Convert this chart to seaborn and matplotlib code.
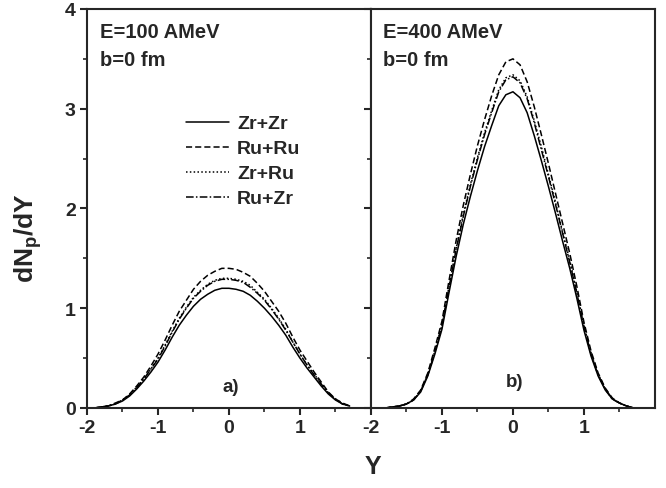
import numpy as np
import pandas as pd
import matplotlib
matplotlib.use('Agg')
import matplotlib.pyplot as plt
import seaborn as sns
from matplotlib import ticker
from matplotlib.lines import Line2D

# ---- data ----
y_100 = [-2.0, -1.9, -1.8, -1.7, -1.6, -1.5, -1.4, -1.3, -1.2, -1.1, -1.0, -0.9, -0.8, -0.7, -0.6,
         -0.5, -0.4, -0.3, -0.2, -0.1, 0.0, 0.1, 0.2, 0.3, 0.4, 0.5, 0.6, 0.7, 0.8, 0.9, 1.0,
         1.1, 1.2, 1.3, 1.4, 1.5, 1.6, 1.7]
zrzr_100 = [0.00, 0.00, 0.01, 0.02, 0.04, 0.07, 0.12, 0.19, 0.27, 0.36, 0.46, 0.58, 0.71, 0.83, 0.93,
            1.02, 1.09, 1.14, 1.18, 1.20, 1.20, 1.19, 1.17, 1.13, 1.07, 1.00, 0.92, 0.83, 0.73, 0.61, 0.50,
            0.40, 0.31, 0.22, 0.14, 0.08, 0.04, 0.02]
ruru_100 = [0.00, 0.00, 0.01, 0.02, 0.05, 0.08, 0.14, 0.22, 0.31, 0.42, 0.54, 0.68, 0.83, 0.97, 1.08,
            1.19, 1.27, 1.33, 1.37, 1.40, 1.40, 1.39, 1.36, 1.32, 1.25, 1.17, 1.07, 0.97, 0.85, 0.71, 0.58,
            0.47, 0.36, 0.26, 0.16, 0.09, 0.05, 0.02]
zrru_100 = [0.00, 0.00, 0.01, 0.02, 0.04, 0.08, 0.13, 0.21, 0.29, 0.39, 0.50, 0.63, 0.77, 0.90, 1.01,
            1.11, 1.18, 1.24, 1.28, 1.30, 1.30, 1.29, 1.27, 1.23, 1.16, 1.09, 1.00, 0.90, 0.79, 0.66, 0.54,
            0.43, 0.34, 0.24, 0.15, 0.09, 0.04, 0.02]
ruzr_100 = [0.00, 0.00, 0.01, 0.02, 0.04, 0.08, 0.13, 0.20, 0.29, 0.39, 0.49, 0.62, 0.76, 0.89, 1.00,
            1.10, 1.17, 1.23, 1.27, 1.29, 1.29, 1.28, 1.26, 1.21, 1.15, 1.08, 0.99, 0.89, 0.78, 0.66, 0.54,
            0.43, 0.33, 0.24, 0.15, 0.09, 0.04, 0.02]

y_400 = [-1.8, -1.7, -1.6, -1.5, -1.4, -1.3, -1.2, -1.1, -1.0, -0.9, -0.8, -0.7, -0.6, -0.5, -0.4,
         -0.3, -0.2, -0.1, 0.0, 0.1, 0.2, 0.3, 0.4, 0.5, 0.6, 0.7, 0.8, 0.9, 1.0, 1.1, 1.2,
         1.3, 1.4, 1.5, 1.6, 1.7]
zrzr_400 = [0.00, 0.01, 0.02, 0.04, 0.08, 0.16, 0.32, 0.54, 0.79, 1.16, 1.52, 1.84, 2.12, 2.38, 2.62,
            2.83, 3.03, 3.14, 3.17, 3.11, 2.96, 2.73, 2.48, 2.22, 1.95, 1.67, 1.40, 1.10, 0.78, 0.52, 0.32,
            0.18, 0.09, 0.05, 0.02, 0.00]
ruru_400 = [0.00, 0.01, 0.02, 0.04, 0.09, 0.18, 0.35, 0.60, 0.87, 1.28, 1.68, 2.03, 2.34, 2.63, 2.89,
            3.13, 3.34, 3.47, 3.50, 3.44, 3.27, 3.02, 2.74, 2.45, 2.15, 1.85, 1.55, 1.22, 0.86, 0.57, 0.35,
            0.20, 0.10, 0.05, 0.02, 0.00]
zrru_400 = [0.00, 0.01, 0.02, 0.04, 0.08, 0.17, 0.34, 0.57, 0.83, 1.22, 1.60, 1.94, 2.24, 2.51, 2.76,
            2.98, 3.19, 3.31, 3.34, 3.28, 3.12, 2.88, 2.62, 2.34, 2.06, 1.76, 1.48, 1.16, 0.82, 0.55, 0.34,
            0.19, 0.09, 0.05, 0.02, 0.00]
ruzr_400 = [0.00, 0.01, 0.02, 0.04, 0.08, 0.17, 0.33, 0.56, 0.83, 1.21, 1.59, 1.92, 2.22, 2.49, 2.74,
            2.96, 3.17, 3.29, 3.32, 3.26, 3.10, 2.86, 2.59, 2.32, 2.04, 1.75, 1.46, 1.15, 0.82, 0.54, 0.33,
            0.19, 0.09, 0.05, 0.02, 0.00]

systems = ['Zr+Zr', 'Ru+Ru', 'Zr+Ru', 'Ru+Zr']
dash_map = {'Zr+Zr': '', 'Ru+Ru': (4, 2), 'Zr+Ru': (1, 1.5), 'Ru+Zr': (5, 1.5, 1, 1.5)}


def long_form(y, series):
    frames = []
    for name, vals in zip(systems, series):
        frames.append(pd.DataFrame({'Y': y, 'dN': vals, 'system': name}))
    return pd.concat(frames, ignore_index=True)


df_100 = long_form(y_100, [zrzr_100, ruru_100, zrru_100, ruzr_100])
df_400 = long_form(y_400, [zrzr_400, ruru_400, zrru_400, ruzr_400])

sns.set_theme(style='ticks')
plt.rcParams['font.family'] = ['Liberation Sans', 'DejaVu Sans']
plt.rcParams['font.weight'] = 'bold'
plt.rcParams['axes.unicode_minus'] = False
plt.rcParams['mathtext.fontset'] = 'custom'
plt.rcParams['mathtext.bf'] = 'Liberation Sans:bold'
plt.rcParams['mathtext.rm'] = 'Liberation Sans:bold'
plt.rcParams['mathtext.default'] = 'bf'

fig = plt.figure(figsize=(6.66, 4.89), dpi=100)
ax1 = fig.add_axes([0.1306, 0.1636, 0.4264, 0.816])
ax2 = fig.add_axes([0.5570, 0.1636, 0.4264, 0.816])

for ax, df in [(ax1, df_100), (ax2, df_400)]:
    sns.lineplot(data=df, x='Y', y='dN', style='system', style_order=systems,
                 dashes=dash_map, color='black', linewidth=1.1, ax=ax, legend=False)
    ax.set_xlim(-2, 2)
    ax.set_ylim(0, 4)
    ax.set_xlabel('')
    ax.set_ylabel('')
    ax.xaxis.set_major_locator(ticker.FixedLocator([-2, -1, 0, 1]))
    ax.xaxis.set_minor_locator(ticker.FixedLocator([-1.5, -0.5, 0.5, 1.5]))
    ax.yaxis.set_major_locator(ticker.MultipleLocator(1))
    ax.yaxis.set_minor_locator(ticker.MultipleLocator(0.5))
    ax.tick_params(which='major', direction='out', length=5, width=1.5, labelsize=14, pad=3)
    ax.tick_params(which='minor', direction='out', length=3, width=1.2)
    for s in ax.spines.values():
        s.set_linewidth(1.5)
        s.set_visible(True)
    for lab in ax.get_xticklabels() + ax.get_yticklabels():
        lab.set_fontweight('bold')

ax2.tick_params(axis='y', which='both', labelleft=False)

txt = dict(fontsize=14.5, fontweight='bold', va='baseline')
ax1.text(0.046, 0.929, 'E=100 AMeV', transform=ax1.transAxes, **txt)
ax1.text(0.046, 0.860, 'b=0 fm', transform=ax1.transAxes, **txt)
ax2.text(0.042, 0.929, 'E=400 AMeV', transform=ax2.transAxes, **txt)
ax2.text(0.042, 0.860, 'b=0 fm', transform=ax2.transAxes, **txt)
ax1.text(0.02, 0.22, 'a)', fontsize=13.5, fontweight='bold', ha='center', va='center')
ax2.text(0.02, 0.27, 'b)', fontsize=13.5, fontweight='bold', ha='center', va='center')

handles = [Line2D([], [], color='black', linewidth=1.1, linestyle='-')]
for s in systems[1:]:
    handles.append(Line2D([], [], color='black', linewidth=1.1, dashes=dash_map[s]))
ax1.legend(handles, systems, loc='upper left', bbox_to_anchor=(0.349, 0.735), frameon=False,
           prop={'weight': 'bold', 'size': 14}, handlelength=2.2, labelspacing=0.38,
           handletextpad=0.42, borderaxespad=0, borderpad=0)

fig.text(0.042, 0.514, 'dN$_p$/dY', rotation=90, fontsize=19, fontweight='bold', ha='center', va='center')
fig.text(0.560, 0.046, 'Y', fontsize=18, fontweight='bold', ha='center', va='center')

fig.savefig('out.png', dpi=100)
